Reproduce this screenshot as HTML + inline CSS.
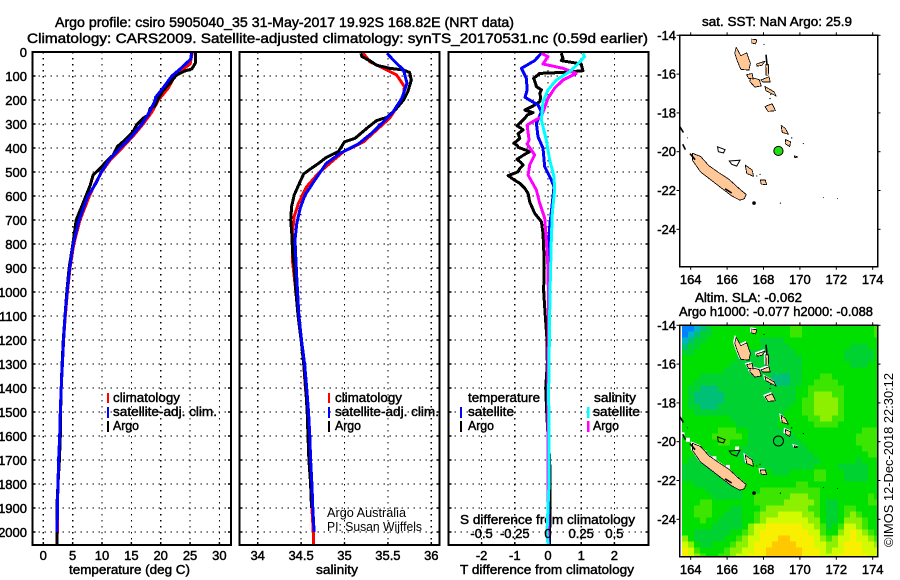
<!DOCTYPE html>
<html lang="en">
<head>
<meta charset="utf-8">
<title>Argo profile csiro 5905040_35</title>
<style>
html,body{margin:0;padding:0;background:#fff;width:900px;height:580px;overflow:hidden}
svg{display:block}
text{font-family:"Liberation Sans",sans-serif;font-size:13px;fill:#000;stroke:#000;stroke-width:.45px}
.plain{stroke:none;font-size:13px}
</style>
</head>
<body>
<svg id="chart" xmlns="http://www.w3.org/2000/svg" width="900" height="580" viewBox="0 0 900 580">
<rect width="900" height="580" fill="#fff"/>
<text x="55" y="27" textLength="459" lengthAdjust="spacingAndGlyphs" style="font-size:14px">Argo profile: csiro 5905040_35 31-May-2017 19.92S 168.82E (NRT data)</text>
<text x="27" y="43" textLength="621" lengthAdjust="spacingAndGlyphs" style="font-size:14px">Climatology: CARS2009. Satellite-adjusted climatology: synTS_20170531.nc (0.59d earlier)</text>
<text x="69" y="574" textLength="121" lengthAdjust="spacingAndGlyphs">temperature (deg C)</text>
<text x="316" y="574" textLength="42" lengthAdjust="spacingAndGlyphs">salinity</text>
<text x="460" y="574" textLength="174" lengthAdjust="spacingAndGlyphs">T difference from climatology</text>
<text x="460" y="524" textLength="175" lengthAdjust="spacingAndGlyphs">S difference from climatology</text>
<text x="702" y="26" textLength="150" lengthAdjust="spacingAndGlyphs">sat. SST: NaN Argo: 25.9</text>
<text x="695" y="302" textLength="107" lengthAdjust="spacingAndGlyphs">Altim. SLA: -0.062</text>
<text x="679" y="316" textLength="194" lengthAdjust="spacingAndGlyphs">Argo h1000: -0.077 h2000: -0.088</text>
<text class="plain" transform="translate(893,547) rotate(-90)" textLength="174" lengthAdjust="spacingAndGlyphs">©IMOS 12-Dec-2018 22:30:12</text>
<g id="layer-plots"></g>
<g>
<rect x="107" y="393" width="2" height="10" fill="#f00"/>
<rect x="107" y="407" width="2" height="11" fill="#00f"/>
<rect x="107" y="421" width="2" height="11" fill="#000"/>
<text x="113" y="402" textLength="67" lengthAdjust="spacingAndGlyphs">climatology</text>
<text x="113" y="416" textLength="104" lengthAdjust="spacingAndGlyphs">satellite-adj. clim.</text>
<text x="113" y="430" textLength="26" lengthAdjust="spacingAndGlyphs">Argo</text>
</g>
<g>
<rect x="328" y="393" width="2" height="10" fill="#f00"/>
<rect x="328" y="407" width="2" height="11" fill="#00f"/>
<rect x="328" y="421" width="2" height="11" fill="#000"/>
<text x="335" y="402" textLength="67" lengthAdjust="spacingAndGlyphs">climatology</text>
<text x="335" y="416" textLength="104" lengthAdjust="spacingAndGlyphs">satellite-adj. clim.</text>
<text x="335" y="430" textLength="26" lengthAdjust="spacingAndGlyphs">Argo</text>
</g>
<g>
<text x="468" y="402" textLength="72" lengthAdjust="spacingAndGlyphs">temperature</text>
<text x="594" y="402" textLength="42" lengthAdjust="spacingAndGlyphs">salinity</text>
<rect x="460" y="407" width="2" height="11" fill="#00f"/>
<rect x="460" y="421" width="2" height="11" fill="#000"/>
<rect x="587" y="407" width="2.5" height="11" fill="#0ff"/>
<rect x="587" y="421" width="2.5" height="11" fill="#f0f"/>
<text x="468" y="416" textLength="46" lengthAdjust="spacingAndGlyphs">satellite</text>
<text x="468" y="430" textLength="26" lengthAdjust="spacingAndGlyphs">Argo</text>
<text x="593" y="416" textLength="47" lengthAdjust="spacingAndGlyphs">satellite</text>
<text x="593" y="430" textLength="26" lengthAdjust="spacingAndGlyphs">Argo</text>
</g>
<text class="plain" x="327" y="517" textLength="79" lengthAdjust="spacingAndGlyphs">Argo Australia</text>
<text class="plain" x="327" y="531" textLength="95" lengthAdjust="spacingAndGlyphs">PI: Susan Wijffels</text>
</svg>
<script>
// ---------- axis tick data ----------
const depthTicks = [0,100,200,300,400,500,600,700,800,900,1000,1100,1200,1300,1400,1500,1600,1700,1800,1900,2000];
const tempTicks = [0,5,10,15,20,25,30];
const salTicks = [34,34.5,35,35.5,36];
const salTickLabels = ['34','34.5','35','35.5','36'];
const tDiffTicks = [-2,-1,0,1,2];
const sDiffTicks = [-0.5,-0.25,0,0.25,0.5];
const sDiffLabels = ['-0.5','-0.25','0','0.25','0.5'];
const lonTicks = [164,166,168,170,172,174];
const latTicks = [-14,-16,-18,-20,-22,-24];

// ---------- temperature profiles ----------
const argoTempDepth = [0,47,71,79,96,129,161,193,225,235,262,276,304,332,367,394,429,457,485,512,554,610,700,800,900,1000,1100,1200,1300,1400,1500,1600,1700,1800,1900,2000,2054];
const argoTemp = [25.9,25.9,25.3,24.1,22.7,21.6,20.4,19.6,19.0,18.2,17.9,17,15.9,15.3,13.9,12.6,11.9,10.7,9.7,8.5,8,7.1,5.6,5.05,4.4,4.0,3.7,3.4,3.2,3.05,2.95,2.9,2.75,2.5,2.3,2.35,2.3];
const climTempDepth = [0,50,75,100,150,200,250,300,350,400,450,500,550,600,700,800,900,1000,1100,1200,1300,1400,1500,1600,1700,1800,1900,2000,2054];
const climTemp = [25.4,25,23.6,22.4,21.3,19.6,18.5,17,15.3,13.4,11.4,9.95,8.8,7.85,6.25,5.2,4.55,4.1,3.75,3.45,3.25,3.05,2.95,2.8,2.65,2.5,2.4,2.38,2.3];
const satTempDepth = [0,30,71,100,150,190,200,250,300,350,400,450,500,550,600,700,800,900,1000,1100,1200,1300,1400,1500,1600,1700,1800,1900,2000];
const satTemp = [25.3,25.1,23.3,21.9,20.4,19.1,19.1,18.1,16.8,15.1,13.1,11.2,9.9,8.9,7.6,6.1,5.1,4.5,4.05,3.7,3.45,3.25,3.05,2.9,2.8,2.6,2.5,2.4,2.35];

// ---------- salinity profiles ----------
const argoSalDepth = [5,19,36,55,68,75,85,117,165,200,235,272,286,314,360,374,415,439,464,489,508,547,596,644,700,769,825,894,1000,1100,1200,1300,1380,1500,1600,1700,1800,1900];
const argoSal = [35.19,35.2,35.29,35.37,35.52,35.68,35.75,35.77,35.73,35.68,35.6,35.49,35.37,35.27,35.12,35.0,34.93,34.79,34.7,34.6,34.53,34.48,34.42,34.39,34.38,34.395,34.4,34.42,34.44,34.465,34.5,34.53,34.55,34.57,34.58,34.59,34.61,34.62];
const climSalDepth = [5,40,68,96,144,179,221,276,325,374,415,464,505,561,630,686,755,867,1000,1100,1200,1300,1400,1500,1600,1700,1800,1900,2000,2054];
const climSal = [35.217,35.29,35.45,35.6,35.69,35.68,35.62,35.52,35.37,35.22,34.99,34.83,34.7,34.565,34.47,34.42,34.4,34.4,34.44,34.47,34.5,34.53,34.55,34.58,34.59,34.6,34.62,34.625,34.64,34.64];
const satSalDepth = [5,33,75,130,193,249,290,339,383,422,464,533,596,651,714,783,867,943,1100,1200,1300,1400,1500,1600,1700,1800,1900,2000];
const satSal = [35.49,35.56,35.68,35.72,35.66,35.56,35.45,35.31,35.16,34.95,34.79,34.66,34.545,34.49,34.45,34.43,34.44,34.45,34.475,34.505,34.54,34.565,34.585,34.6,34.61,34.625,34.635,34.65];

// ---------- difference profiles ----------
const argoTDiffDepth = [5,26,36,50,78,85,89,110,130,144,158,172,189,207,225,242,253,262,276,290,300,308,317,325,340,360,372,380,390,397,415,428,447,460,471,485,499,515,530,547,568,589,624,672,707,756,850,1000,1100,1200,1300,1400,1500,1600,1700,1800,1900,2000,2054];
const argoTDiff = [0.4,0.45,0.4,1.0,1.05,0.45,-0.25,-0.43,-0.38,-0.35,-0.2,-0.25,-0.22,-0.25,-0.45,-0.7,-0.45,-0.62,-0.7,-0.8,-0.88,-0.93,-0.82,-0.75,-0.9,-0.85,-0.95,-1.03,-0.92,-0.9,-0.55,-0.72,-0.93,-0.82,-0.75,-0.85,-0.9,-1.2,-1.05,-0.85,-0.7,-0.6,-0.55,-0.4,-0.2,-0.15,-0.12,-0.13,-0.08,-0.03,-0.02,-0.07,-0.04,0,0.05,0.06,0.06,0.05,0.05];
const satTDiffDepth = [5,36,68,110,158,189,221,249,297,353,401,478,533,561,630,728,783,1000,2054];
const satTDiff = [-0.2,-0.4,-0.8,-0.65,-0.63,-0.69,-0.3,-0.2,-0.35,-0.3,-0.15,-0.1,0.1,0.18,0.13,0.05,0.03,0.02,0.02];
const argoSDiffDepth = [5,19,50,68,89,117,151,193,269,304,367,383,429,471,513,575,630,693,783,900,1100,1300,2054];
const argoSDiff = [-0.05,0,-0.0375,0.1125,0.2125,0.1125,0.05,0,-0.05,-0.1575,-0.1425,-0.1575,-0.1,-0.1375,-0.15,-0.0875,-0.0625,-0.025,-0.0125,0,0.005,0,0];
const satSDiffDepth = [5,19,50,82,117,158,207,283,367,450,519,575,672,783,1000,1400,1800,2000,2054];
const satSDiff = [0.2625,0.275,0.225,0.1625,0.0625,0,-0.0375,-0.05,-0.0125,0.0125,0.045,0.05,0.0325,0.025,0.015,0.005,0.0075,-0.0075,0];

// ---------- map data (lon, lat) ----------
const profileLon = 168.82;
const profileLat = -19.92;
const landPolygons = [
 [[164.1,-20.08],[164.55,-20.25],[165.0,-20.72],[165.55,-21.08],[166.1,-21.42],[166.75,-21.98],[167.05,-22.2],[166.95,-22.42],[166.71,-22.5],[166.25,-22.28],[165.79,-21.95],[165.06,-21.42],[164.55,-21.05],[164.1,-20.45]],
 [[166.5,-14.62],[166.75,-15.05],[167.08,-14.9],[167.28,-15.45],[167.2,-15.8],[166.75,-15.75],[166.55,-15.3],[166.42,-14.93]],
 [[167.35,-16.22],[167.72,-16.31],[167.81,-16.57],[167.53,-16.62],[167.3,-16.39]],
 [[167.11,-16.05],[167.35,-16.0],[167.4,-16.22],[167.2,-16.2]],
 [[167.66,-15.48],[168.03,-15.36],[167.9,-15.53],[167.68,-15.57]],
 [[168.14,-17.69],[168.45,-17.57],[168.6,-17.86],[168.27,-17.89]],
 [[167.9,-16.31],[168.27,-16.17],[168.32,-16.39],[167.99,-16.39]],
 [[168.14,-16.69],[168.54,-16.91],[168.63,-17.08],[168.18,-16.86]],
 [[168.14,-15.55],[168.27,-15.55],[168.25,-16.0],[168.15,-16.0]],
 [[169.0,-18.69],[169.18,-18.81],[169.33,-19.06],[169.05,-18.98]],
 [[169.24,-19.41],[169.46,-19.5],[169.42,-19.7],[169.22,-19.58]],
 [[169.7,-20.22],[169.86,-20.27],[169.73,-20.3]],
 [[167.38,-14.22],[167.6,-14.25],[167.55,-14.42],[167.38,-14.38]],
 [[167.04,-20.75],[167.35,-20.96],[167.41,-21.22],[167.11,-21.1]],
 [[167.86,-21.48],[168.08,-21.48],[168.14,-21.68],[167.9,-21.65]]
];
const atollOutlines = [
 [[165.47,-19.75],[165.89,-19.89],[165.8,-20.06],[165.52,-20.0]],
 [[166.12,-20.48],[166.71,-20.44],[166.53,-20.74],[166.25,-20.65]]
];
const coastLines = [
 [[163.41,-18.72],[163.6,-19.01]],
 [[163.56,-19.62],[163.71,-19.89]],
 [[163.96,-20.1],[164.24,-20.41]],
 [[165.89,-21.91],[166.25,-22.13]],
 [[168.14,-15.0],[168.2,-15.55]]
];
const islets = [[167.48,-22.65,1.8],[168.93,-22.65,.6],[171.29,-22.37,.5],[172.06,-22.42,.5],[170.19,-19.58,.6],[168.03,-14.47,.6],[169.55,-19.29,.7],[167.81,-21.17,.6],[167.63,-21.25,.6],[168.36,-17.26,.7],[168.4,-17.05,.7],[163.82,-19.29,.5],[163.41,-18.32,.5]];
const haloPatches = [[163.55,-19.62],[163.85,-19.9],[164.75,-20.55],[165.3,-20.85],[166.05,-21.3],[166.55,-20.35]];

// ---------- sea level anomaly grid (colour class per cell) ----------
const slaGrid = [
[0,0,1,2,3,4,4,4,4,4,4,4,4,4,4,4,4,4,5,5,4,4,4,4,4,4,4,4,4,4,4,4,5],
[0,1,2,3,3,4,4,4,4,4,4,4,4,4,4,4,4,4,5,5,4,4,4,4,4,4,4,4,4,4,4,4,5],
[1,2,3,3,4,4,4,4,4,4,4,4,4,3,3,3,3,4,4,4,4,4,4,4,4,4,4,4,4,4,4,4,4],
[2,3,3,4,4,4,4,4,4,4,4,4,4,3,3,3,3,3,4,4,4,4,4,4,4,4,4,4,3,3,3,4,4],
[3,3,4,4,4,4,4,4,4,4,4,3,3,3,3,3,3,3,3,4,4,4,4,4,4,4,4,3,3,3,3,3,4],
[4,4,4,4,4,4,4,4,4,3,3,3,3,3,3,3,3,3,3,3,4,4,4,4,4,4,4,3,3,3,3,3,4],
[4,4,4,4,4,4,4,4,3,3,3,3,3,3,3,3,3,3,3,3,4,4,4,4,4,4,4,4,3,3,3,4,4],
[4,4,4,4,4,4,4,3,3,3,3,3,3,3,3,3,3,3,3,3,4,4,4,4,4,4,4,4,4,4,4,4,4],
[4,4,4,3,3,3,3,3,3,3,3,3,3,3,3,2,2,2,3,3,4,4,4,5,5,4,4,4,4,4,4,4,4],
[4,4,3,3,3,3,3,3,3,3,3,3,3,3,3,2,2,2,3,3,4,4,5,5,5,5,4,4,4,4,4,4,4],
[4,3,3,2,2,2,3,3,3,3,3,3,3,3,3,3,3,3,3,4,4,5,5,5,5,5,5,4,4,4,4,4,4],
[4,3,2,2,2,2,2,3,3,3,3,3,3,3,3,3,3,3,3,4,4,5,6,6,6,5,5,4,4,4,4,4,4],
[4,3,2,2,2,2,2,3,3,3,3,3,3,3,3,3,3,3,3,4,5,5,6,6,6,6,5,4,4,4,4,4,4],
[4,3,3,2,2,2,3,3,3,3,3,3,3,3,3,3,3,3,4,4,5,5,6,6,6,6,5,4,4,4,4,4,4],
[4,4,3,3,3,3,3,3,3,3,3,3,3,3,3,3,3,4,4,4,5,5,6,6,6,6,5,4,4,4,4,4,4],
[4,4,4,4,4,4,4,4,3,3,3,3,3,3,3,3,4,4,4,4,4,5,5,6,6,5,5,4,4,4,4,4,4],
[4,4,4,4,4,4,4,4,4,3,3,3,3,3,3,3,4,4,4,4,4,4,5,5,5,5,4,4,4,4,4,4,4],
[4,4,4,4,4,4,5,5,5,4,4,3,3,3,3,3,3,3,4,4,4,4,4,4,4,4,4,4,4,4,5,5,5],
[4,4,4,4,4,5,5,5,5,5,4,3,3,3,3,3,3,3,3,4,4,4,4,4,4,4,4,4,4,5,5,5,5],
[4,4,4,4,4,4,5,5,4,4,4,3,3,3,3,3,3,3,3,3,4,4,4,4,4,4,4,4,4,5,5,5,5],
[4,4,4,4,4,4,4,4,4,4,3,3,3,3,3,3,3,3,3,3,3,4,4,4,4,4,4,4,4,4,5,5,5],
[4,4,3,3,3,4,4,4,4,3,3,3,3,3,3,3,3,3,3,3,3,3,4,4,4,4,4,4,4,4,4,5,5],
[4,3,3,3,3,3,4,4,4,4,3,3,3,3,3,3,3,3,3,3,3,3,3,4,4,4,4,4,4,3,4,4,4],
[3,3,3,3,3,3,4,4,4,4,4,4,4,3,3,3,3,3,3,3,3,3,4,4,4,4,3,3,3,3,3,4,4],
[3,3,3,3,3,3,4,4,4,4,4,4,4,4,4,3,3,3,4,4,4,4,5,5,4,4,4,3,3,3,3,4,4],
[3,3,3,3,3,3,3,3,4,4,4,4,4,4,4,4,4,4,4,4,4,4,5,5,4,4,4,3,3,3,3,4,4],
[4,4,3,3,3,3,3,3,3,4,4,4,4,4,4,4,4,4,4,5,5,4,4,4,4,4,4,4,4,4,4,4,4],
[4,4,4,4,3,3,3,3,3,3,4,4,4,5,5,5,5,5,5,5,5,5,5,4,4,4,4,4,4,4,4,4,4],
[4,4,4,4,4,3,3,3,3,3,4,4,5,5,5,5,5,5,6,6,6,5,5,4,4,4,4,4,4,4,4,5,4],
[4,4,4,5,5,4,4,4,4,4,4,4,5,5,5,5,5,6,6,6,6,6,5,4,3,3,4,4,4,4,4,5,5],
[4,4,5,5,5,4,4,4,3,3,4,4,4,5,6,6,6,6,6,6,6,5,5,4,3,3,4,5,5,4,4,4,4],
[4,4,5,5,5,4,4,3,3,3,4,4,5,6,6,6,7,7,7,7,6,6,5,4,3,3,4,5,6,5,4,4,4],
[4,4,4,5,4,4,3,3,3,3,4,4,5,6,7,7,7,7,7,7,7,6,6,4,3,3,4,6,6,6,5,4,4],
[4,4,4,4,4,3,3,3,3,3,4,6,7,7,8,8,8,8,8,8,7,7,6,5,3,4,5,7,7,6,5,4,4],
[4,4,3,3,3,3,3,3,4,4,5,6,7,8,8,8,8,8,8,8,8,7,7,5,4,4,6,7,8,7,6,5,4],
[6,4,3,3,3,3,3,4,4,5,6,7,7,8,8,8,9,9,8,8,8,8,7,6,5,6,7,7,8,7,7,6,5],
[7,6,4,3,3,4,4,4,5,6,6,7,8,8,8,9,9,9,9,8,8,8,7,7,6,6,7,8,8,8,7,7,6],
[8,7,5,4,4,4,4,5,6,6,7,7,8,8,9,9,9,9,9,9,8,8,8,7,6,7,7,8,8,8,7,7,7],
[8,7,6,5,4,4,5,5,6,7,7,8,8,8,9,9,9,9,9,9,8,8,8,7,7,7,8,8,8,8,8,7,7]
];
const slaPalette = ['#0082ff','#00b4c8','#00c078','#00d232','#00e000','#3ce600','#8cf000','#d2fa00','#f8f000','#ffc800'];

// ---------- drawing helpers ----------
const NS = 'http://www.w3.org/2000/svg';
const root = document.getElementById('layer-plots');
function mark(tag, name, attrs, parent) {
  const el = document.createElementNS(NS, tag);
  
  
  for (const k in attrs) el.setAttribute(k, attrs[k]);
  (parent || root).appendChild(el);
  return el;
}
function label(name, x, y, str, anchor, parent) {
  const el = mark('text', name, {x: x, y: y, 'text-anchor': anchor || 'middle'}, parent);
  el.textContent = str;
  return el;
}
const TOP = 52, BOTTOM = 545;
const yDepth = d => TOP + d * 0.24;
const xTemp = v => 43.3 + v * 5.87;
const xSal = v => 257.7 + (v - 34) * 86.8;
const xTDiff = v => 548 + v * 33.2;
const xSDiff = v => xTDiff(v * 4);

function clip(id, x, y, w, h) {
  const defs = mark('clipPath', id, {id: id});
  mark('rect', id + '-rect', {x: x, y: y, width: w, height: h}, defs);
}
function frame(name, x0, x1, xTicksPx) {
  const g = mark('g', name, {});
  depthTicks.forEach(d => {
    const y = yDepth(d);
    if (d > 0) mark('line', 'depth-gridline', {x1: x0, x2: x1, y1: y, y2: y, stroke: '#000', 'stroke-width': 1.2, 'stroke-dasharray': '1.3 4.7', 'shape-rendering': 'crispEdges'}, g);
    mark('line', 'depth-tick-left', {x1: x0, x2: x0 + 3, y1: y, y2: y, stroke: '#000', 'stroke-width': 1.5}, g);
    mark('line', 'depth-tick-right', {x1: x1 - 3, x2: x1, y1: y, y2: y, stroke: '#000', 'stroke-width': 1.5}, g);
  });
  xTicksPx.forEach(x => {
    mark('line', 'x-gridline', {x1: x, x2: x, y1: TOP, y2: BOTTOM, stroke: '#000', 'stroke-width': 1.2, 'stroke-dasharray': '1.3 4.7', 'shape-rendering': 'crispEdges'}, g);
    mark('line', 'x-tick', {x1: x, x2: x, y1: BOTTOM - 3, y2: BOTTOM, stroke: '#000', 'stroke-width': 1.5}, g);
  });
  return g;
}
function border(name, x0, x1) {
  mark('rect', name, {x: x0, y: TOP, width: x1 - x0, height: BOTTOM - TOP, fill: 'none', stroke: '#000', 'stroke-width': 1.8, 'shape-rendering': 'crispEdges'});
}
function series(name, depths, vals, xf, color, clipId, w) {
  const pts = depths.map((d, i) => xf(vals[i]).toFixed(1) + ',' + yDepth(d).toFixed(1)).join(' ');
  mark('polyline', name, {points: pts, fill: 'none', stroke: color, 'stroke-width': w || 3, 'stroke-linejoin': 'round', 'clip-path': 'url(#' + clipId + ')', 'shape-rendering': 'crispEdges'});
}

// ---------- profile panels ----------
const P1 = [32.5, 231], P2 = [239.5, 439.5], P3 = [448.5, 648.5];
clip('clip-temp', P1[0], TOP, P1[1] - P1[0], BOTTOM - TOP);
clip('clip-sal', P2[0], TOP, P2[1] - P2[0], BOTTOM - TOP);
clip('clip-diff', P3[0], TOP, P3[1] - P3[0], BOTTOM - TOP);

frame('temperature-grid', P1[0], P1[1], tempTicks.map(xTemp));
series('temperature-climatology-line', climTempDepth, climTemp, xTemp, '#f00', 'clip-temp');
series('temperature-argo-line', argoTempDepth, argoTemp, xTemp, '#000', 'clip-temp');
series('temperature-satellite-line', satTempDepth, satTemp, xTemp, '#00f', 'clip-temp');
border('temperature-panel-frame', P1[0], P1[1]);

frame('salinity-grid', P2[0], P2[1], salTicks.map(xSal));
series('salinity-climatology-line', climSalDepth, climSal, xSal, '#f00', 'clip-sal');
series('salinity-argo-line', argoSalDepth, argoSal, xSal, '#000', 'clip-sal');
series('salinity-satellite-line', satSalDepth, satSal, xSal, '#00f', 'clip-sal');
border('salinity-panel-frame', P2[0], P2[1]);

frame('difference-grid', P3[0], P3[1], tDiffTicks.map(xTDiff));
series('t-difference-argo-line', argoTDiffDepth, argoTDiff, xTDiff, '#000', 'clip-diff');
series('t-difference-satellite-line', satTDiffDepth, satTDiff, xTDiff, '#00f', 'clip-diff');
series('s-difference-argo-line', argoSDiffDepth, argoSDiff, xSDiff, '#f0f', 'clip-diff');
series('s-difference-satellite-line', satSDiffDepth, satSDiff, xSDiff, '#0ff', 'clip-diff');
border('difference-panel-frame', P3[0], P3[1]);

depthTicks.forEach(d => label('depth-tick-label', 27, yDepth(d) + 5, String(d), 'end'));
tempTicks.forEach(v => label('temperature-tick-label', xTemp(v), 560, String(v)));
salTicks.forEach((v, i) => label('salinity-tick-label', xSal(v), 560, salTickLabels[i]));
tDiffTicks.forEach(v => label('t-difference-tick-label', xTDiff(v), 560, String(v)));
sDiffTicks.forEach((v, i) => label('s-difference-tick-label', xSDiff(v), 538, sDiffLabels[i]));

// ---------- maps ----------
const MX0 = 679.5, MX1 = 877.5, MW = MX1 - MX0, MH = 231.5;
const xLon = lon => 690.7 + (lon - 164) * 18.2;
const yLat = (lat, top) => top + (-14 - lat) * 19.4;

function drawLand(g, top, halo) {
  const polyPts = (p, dx, dy, s) => {
    const cx = p.reduce((a, c) => a + xLon(c[0]), 0) / p.length;
    const cy = p.reduce((a, c) => a + yLat(c[1], top), 0) / p.length;
    return p.map(c => (cx + (xLon(c[0]) - cx) * s + dx).toFixed(1) + ',' + (cy + (yLat(c[1], top) - cy) * s + dy).toFixed(1)).join(' ');
  };
  const grow = i => (i < 2 ? 1 : 1.25);
  if (halo) {
    landPolygons.forEach((p, i) => mark('polygon', 'island-halo', {points: polyPts(p, -1.2, -1.2, grow(i)), fill: '#fff', stroke: '#fff', 'stroke-width': 1}, g));
    haloPatches.forEach(c => mark('rect', 'land-mask-patch', {x: xLon(c[0]) - 2, y: yLat(c[1], top) - 2, width: 4, height: 4, fill: '#fff'}, g));
  }
  landPolygons.forEach((p, i) => mark('polygon', 'island', {points: polyPts(p, 0, 0, grow(i)), fill: '#ffc896', stroke: '#000', 'stroke-width': 0.8, 'stroke-linejoin': 'round', 'shape-rendering': 'crispEdges'}, g));
  atollOutlines.forEach(p => mark('polygon', 'atoll-outline', {points: polyPts(p, 0, 0, 1), fill: 'none', stroke: '#000', 'stroke-width': 1}, g));
  coastLines.forEach(p => mark('polyline', 'coast-line', {points: polyPts(p, 0, 0, 1), fill: 'none', stroke: '#000', 'stroke-width': 1.6}, g));
  islets.forEach(c => mark('circle', 'islet', {cx: xLon(c[0]), cy: yLat(c[1], top), r: c[2], fill: '#000'}, g));
}
function mapFrame(g, top, base) {
  mark('rect', 'map-frame', {x: MX0, y: top, width: MW, height: MH, fill: 'none', stroke: '#000', 'stroke-width': 1.5, 'shape-rendering': 'crispEdges'}, g);
  lonTicks.forEach(lon => {
    const x = xLon(lon);
    mark('line', 'lon-tick-top', {x1: x, x2: x, y1: top - 3, y2: top, stroke: '#000', 'stroke-width': 1}, g);
    mark('line', 'lon-tick-bottom', {x1: x, x2: x, y1: top + MH, y2: top + MH + 3, stroke: '#000', 'stroke-width': 1}, g);
    label('longitude-tick-label', x, base, String(lon), 'middle', g);
  });
  latTicks.forEach(lat => {
    const y = yLat(lat, top);
    mark('line', 'lat-tick-left', {x1: MX0 - 3, x2: MX0, y1: y, y2: y, stroke: '#000', 'stroke-width': 1}, g);
    mark('line', 'lat-tick-right', {x1: MX1, x2: MX1 + 3, y1: y, y2: y, stroke: '#000', 'stroke-width': 1}, g);
    label('latitude-tick-label', 676, y + 4.5, String(lat), 'end', g);
  });
}

const TOP1 = 35.3, TOP2 = 325.3;
clip('clip-map1', MX0, TOP1, MW, MH);
clip('clip-map2', MX0, TOP2, MW, MH);

const map1 = mark('g', 'sst-map', {});
const map1Inner = mark('g', 'sst-map-content', {'clip-path': 'url(#clip-map1)'}, map1);
drawLand(map1Inner, TOP1, false);
mark('circle', 'argo-profile-location', {cx: xLon(profileLon), cy: yLat(profileLat, TOP1) + 0.8, r: 4.6, fill: '#22e010', stroke: '#000', 'stroke-width': 1}, map1Inner);
mapFrame(map1, TOP1, 284);

const map2 = mark('g', 'sla-map', {});
const map2Inner = mark('g', 'sla-map-content', {'clip-path': 'url(#clip-map2)'}, map2);
slaGrid.forEach((row, r) => row.forEach((v, c) => {
  mark('rect', 'sla-cell', {x: 682 + c * 6, y: TOP2 + r * 6, width: 6.05, height: 6.05, fill: slaPalette[v], 'shape-rendering': 'crispEdges'}, map2Inner);
}));
drawLand(map2Inner, TOP2, true);
mark('circle', 'argo-profile-location', {cx: xLon(profileLon), cy: yLat(profileLat, TOP2) + 0.8, r: 5, fill: 'none', stroke: '#000', 'stroke-width': 1}, map2Inner);
mapFrame(map2, TOP2, 574);
</script>
</body>
</html>
